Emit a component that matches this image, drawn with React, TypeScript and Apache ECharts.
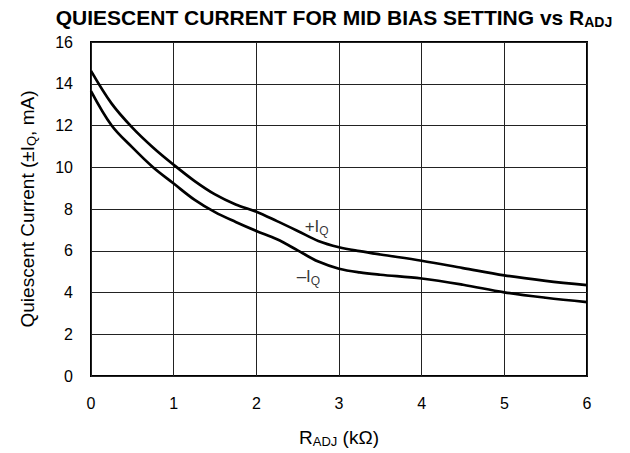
import React, { useEffect, useRef } from "react";
import * as echarts from "echarts";

const xPlus = [0, 0.25, 0.5, 0.75, 1, 1.25, 1.5, 1.75, 2, 2.25, 2.5, 2.75, 3, 3.25, 3.5, 4, 4.5, 5, 5.5, 6];
const plusIQ = [14.62, 13.05, 11.9, 10.95, 10.12, 9.35, 8.7, 8.22, 7.87, 7.42, 6.95, 6.47, 6.17, 5.98, 5.82, 5.52, 5.17, 4.82, 4.56, 4.35];
const xMinus = [0, 0.25, 0.5, 0.75, 1, 1.25, 1.5, 1.75, 2, 2.25, 2.5, 2.75, 3, 3.25, 3.5, 4, 4.5, 5, 5.5, 6];
const minusIQ = [13.65, 12.0, 10.95, 10.0, 9.22, 8.45, 7.85, 7.38, 6.95, 6.55, 6.02, 5.48, 5.14, 4.96, 4.85, 4.67, 4.37, 4.01, 3.75, 3.54];
const curveLabels = ["+I", "–I"];
const curveLabelX = [2.73, 2.63];
const curveLabelY = [7.14, 4.76];

const FONT = "Liberation Sans, Arial, Helvetica, sans-serif";

export default function App() {
  const ref = useRef<HTMLDivElement>(null);
  useEffect(() => {
    if (!ref.current) return;
    const chart = echarts.init(ref.current, null, { renderer: "svg" });
    const pts = (xs: number[], ys: number[]) => xs.map((x, i) => [x, ys[i]]);
    const labelRich = {
      m: { fontSize: 17, color: "#000", fontFamily: FONT, lineHeight: 20 },
      s: { fontSize: 12, color: "#000", fontFamily: FONT, padding: [9, 0, 0, 0], lineHeight: 20 },
    };
    chart.setOption({
      animation: false,
      backgroundColor: "#fff",
      textStyle: { fontFamily: FONT },
      title: {
        text: "{m|QUIESCENT CURRENT FOR MID BIAS SETTING vs R}{s|ADJ}",
        left: 329,
        top: 0,
        textAlign: "center",
        textStyle: {
          rich: {
            m: { fontSize: 21, fontWeight: "bold", color: "#000", fontFamily: FONT, lineHeight: 24 },
            s: { fontSize: 14, fontWeight: "bold", color: "#000", fontFamily: FONT, padding: [9, 0, 0, 0], lineHeight: 24 },
          },
        },
      },
      grid: {
        left: 91,
        right: 43,
        top: 42,
        bottom: 76,
        show: true,
        borderColor: "#000",
        borderWidth: 2,
      },
      xAxis: {
        type: "value",
        min: 0,
        max: 6,
        interval: 1,
        name: "{m|R}{s|ADJ}{m| (kΩ)}",
        nameLocation: "middle",
        nameGap: 50,
        nameTextStyle: {
          rich: {
            m: { fontSize: 19, color: "#000", fontFamily: FONT, lineHeight: 22 },
            s: { fontSize: 13, color: "#000", fontFamily: FONT, padding: [9, 0, 0, 0], lineHeight: 22 },
          },
        },
        axisLine: { show: false },
        axisTick: { show: false },
        axisLabel: { color: "#000", fontSize: 16, margin: 19, fontFamily: FONT },
        splitLine: { show: true, lineStyle: { color: "#222", width: 1 } },
      },
      yAxis: {
        type: "value",
        min: 0,
        max: 16,
        interval: 2,
        name: "{m|Quiescent Current (±I}{s|Q}{m|, mA)}",
        nameLocation: "middle",
        nameGap: 53,
        nameRotate: 90,
        nameTextStyle: {
          rich: {
            m: { fontSize: 19, color: "#000", fontFamily: FONT, lineHeight: 22 },
            s: { fontSize: 13, color: "#000", fontFamily: FONT, padding: [9, 0, 0, 0], lineHeight: 22 },
          },
        },
        axisLine: { show: false },
        axisTick: { show: false },
        axisLabel: { color: "#000", fontSize: 16, margin: 18, fontFamily: FONT },
        splitLine: { show: true, lineStyle: { color: "#222", width: 1 } },
      },
      series: [
        {
          type: "line",
          data: pts(xPlus, plusIQ),
          smooth: 0.35,
          showSymbol: false,
          lineStyle: { color: "#000", width: 2.7 },
        },
        {
          type: "line",
          data: pts(xMinus, minusIQ),
          smooth: 0.35,
          showSymbol: false,
          lineStyle: { color: "#000", width: 2.7 },
        },
        {
          type: "scatter",
          symbolSize: 1,
          itemStyle: { color: "transparent" },
          data: curveLabels.map((t, i) => ({ value: [curveLabelX[i], curveLabelY[i]], name: t })),
          label: {
            show: true,
            position: "inside",
            formatter: (p: any) => `{m|${p.name}}{s|Q}`,
            rich: labelRich,
          },
        },
      ],
    });
    return () => chart.dispose();
  }, []);
  return <div ref={ref} style={{ position: "fixed", left: 0, top: 0, width: 630, height: 453 }} />;
}
